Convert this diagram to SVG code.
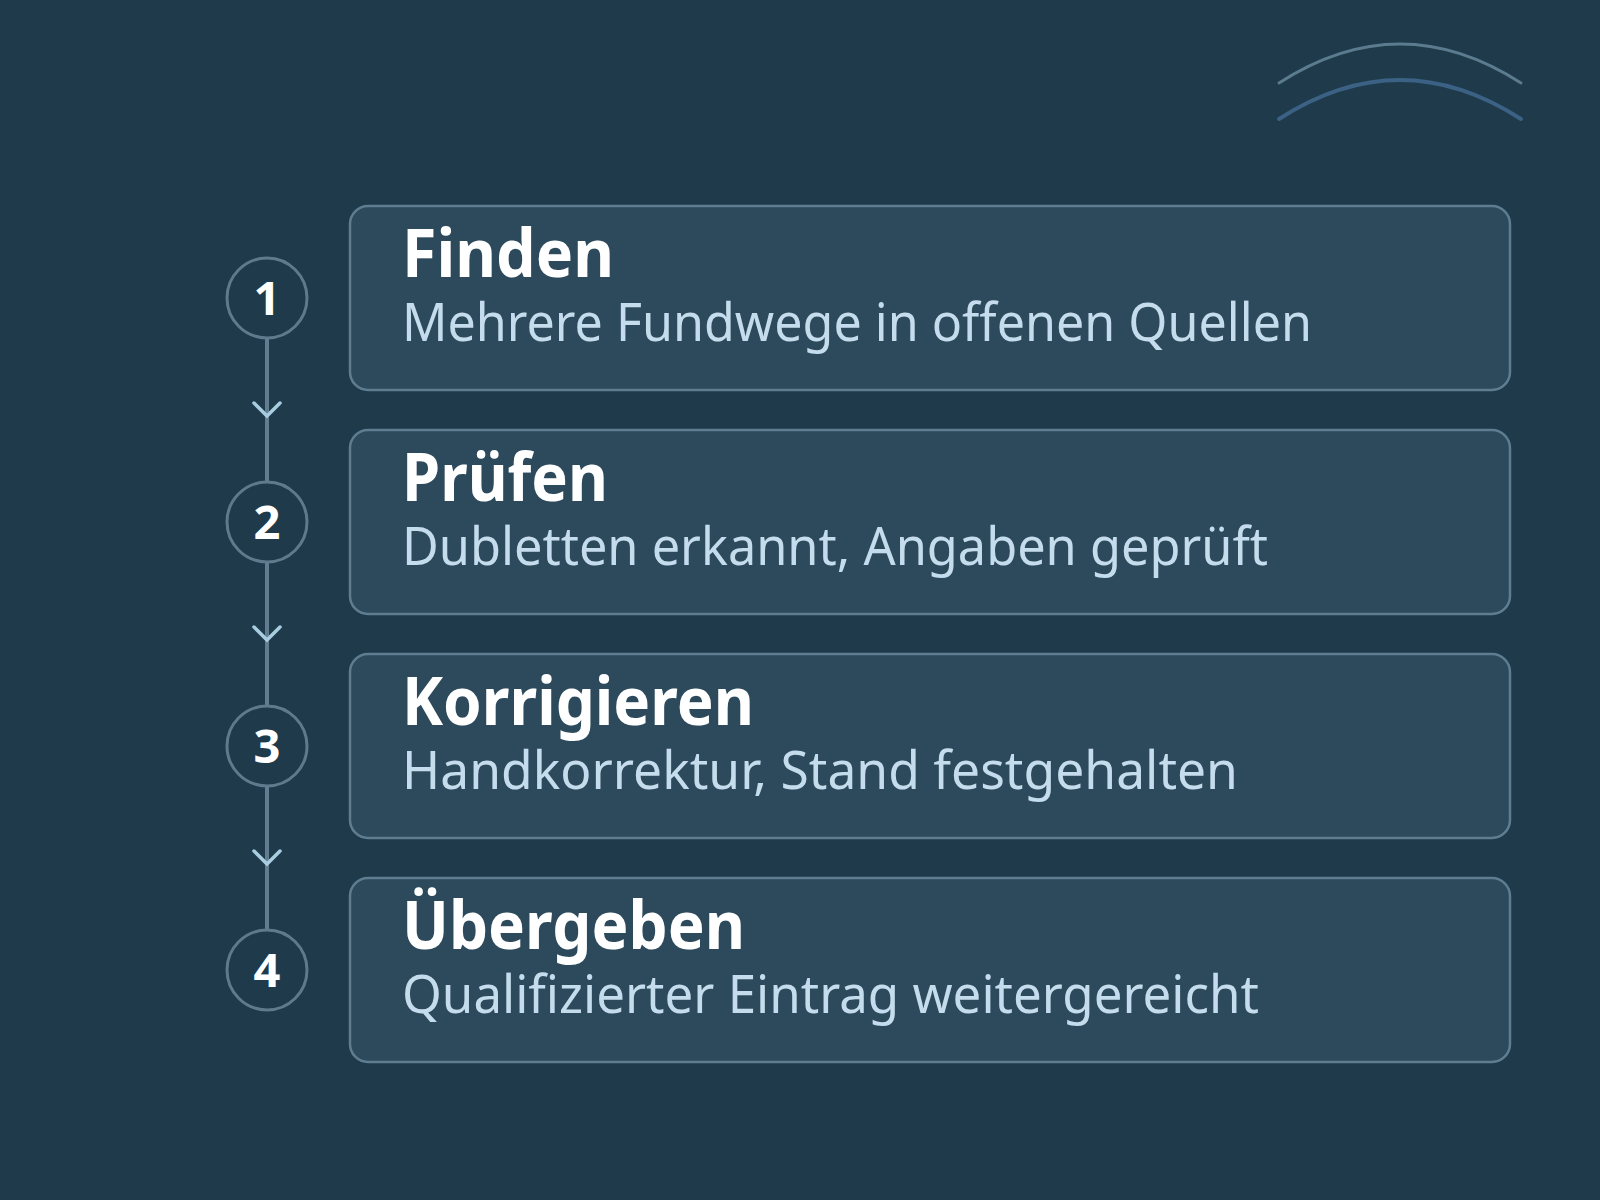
<svg xmlns="http://www.w3.org/2000/svg" width="1600" height="1200" viewBox="0 0 1600 1200">
<style>
.box{fill:#2d4a5d;stroke:#5f7d91;stroke-width:2.5}
.ring{fill:#1f3a4a;stroke:#5f7a8c;stroke-width:3}
.num{font-family:"Noto Sans","Open Sans",sans-serif;font-weight:700;font-size:47px;fill:#ffffff;text-anchor:middle}
.title{font-family:"Noto Sans","Open Sans",sans-serif;font-weight:700;font-size:66px;fill:#ffffff}
.sub{font-family:"Noto Sans","Open Sans",sans-serif;font-weight:400;font-size:53px;fill:#c4dcec}
.line{stroke:#627d8f;stroke-width:4;fill:none}
.chev{stroke:#a8cde0;stroke-width:3.5;fill:none;stroke-linecap:round;stroke-linejoin:miter}
</style>
<rect x="0" y="0" width="1600" height="1200" fill="#1f3a4a"/>
<g id="decor">
<path d="M1279,83 Q1400,5 1521,83" fill="none" stroke="#5b7b8e" stroke-width="3" stroke-linecap="round"/>
<path d="M1279,119 Q1400,41 1521,119" fill="none" stroke="#3b6284" stroke-width="4" stroke-linecap="round"/>
</g>
<g id="connectors">
<line class="line" x1="267" y1="338" x2="267" y2="482"/>
<path class="chev" d="M254,403 L267,416 L280,403"/>
<line class="line" x1="267" y1="562" x2="267" y2="706"/>
<path class="chev" d="M254,627 L267,640 L280,627"/>
<line class="line" x1="267" y1="786" x2="267" y2="930"/>
<path class="chev" d="M254,851 L267,864 L280,851"/>
</g>
<g id="step1">
<circle class="ring" cx="267" cy="298" r="40"/>
<text class="num" x="267" y="315">1</text>
<rect class="box" x="350" y="206" width="1160" height="184" rx="18"/>
<text class="title" x="402" y="277" textLength="212" lengthAdjust="spacingAndGlyphs">Finden</text>
<text class="sub" x="402" y="341" textLength="910" lengthAdjust="spacingAndGlyphs">Mehrere Fundwege in offenen Quellen</text>
</g>
<g id="step2">
<circle class="ring" cx="267" cy="522" r="40"/>
<text class="num" x="267" y="539">2</text>
<rect class="box" x="350" y="430" width="1160" height="184" rx="18"/>
<text class="title" x="402" y="501" textLength="206" lengthAdjust="spacingAndGlyphs">Prüfen</text>
<text class="sub" x="402" y="565" textLength="866" lengthAdjust="spacingAndGlyphs">Dubletten erkannt, Angaben geprüft</text>
</g>
<g id="step3">
<circle class="ring" cx="267" cy="746" r="40"/>
<text class="num" x="267" y="763">3</text>
<rect class="box" x="350" y="654" width="1160" height="184" rx="18"/>
<text class="title" x="402" y="725" textLength="352" lengthAdjust="spacingAndGlyphs">Korrigieren</text>
<text class="sub" x="402" y="789" textLength="836" lengthAdjust="spacingAndGlyphs">Handkorrektur, Stand festgehalten</text>
</g>
<g id="step4">
<circle class="ring" cx="267" cy="970" r="40"/>
<text class="num" x="267" y="987">4</text>
<rect class="box" x="350" y="878" width="1160" height="184" rx="18"/>
<text class="title" x="402" y="949" textLength="343" lengthAdjust="spacingAndGlyphs">Übergeben</text>
<text class="sub" x="402" y="1013" textLength="857" lengthAdjust="spacingAndGlyphs">Qualifizierter Eintrag weitergereicht</text>
</g>
</svg>
